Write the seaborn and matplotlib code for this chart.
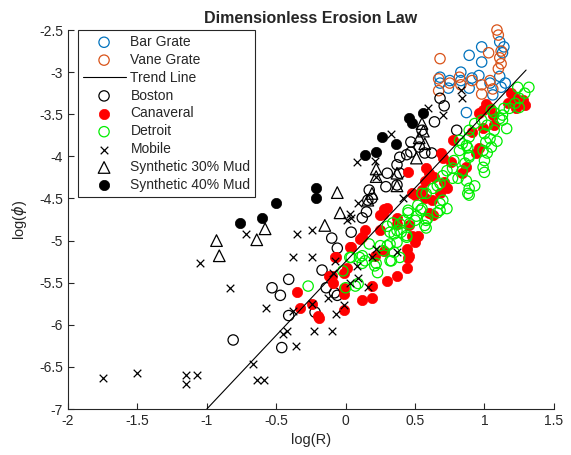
import matplotlib
matplotlib.use("Agg")
import matplotlib.pyplot as plt
import seaborn as sns

# -----------------------------
# Data, log(R) vs log(phi)
# -----------------------------
bar_x = [0.89, 0.98, 0.98, 1.11, 1.14, 1.13, 0.68, 0.68, 0.75, 0.74, 0.83, 0.83,
         0.91, 0.96, 0.89, 1.04, 1.06, 1.11, 1.12, 1.15, 0.87]
bar_y = [-2.80, -2.70, -2.88, -2.64, -2.70, -2.77, -3.06, -3.13, -3.10, -3.19, -3.00, -3.10,
         -3.07, -3.04, -3.19, -3.13, -3.27, -3.05, -3.18, -3.13, -3.48]

vane_x = [1.09, 1.10, 1.03, 1.12, 1.11, 1.12, 1.10, 0.68, 0.67, 0.67, 0.75, 0.82,
          0.83, 0.91, 0.98, 1.04, 0.98, 1.06]
vane_y = [-2.50, -2.56, -2.77, -2.75, -2.83, -2.90, -2.96, -2.84, -3.08, -3.22, -3.13, -3.06,
          -3.15, -3.10, -3.15, -3.10, -3.26, -3.20]

trend_x = [-1.0, 1.3]
trend_y = [-7.0, -2.975]

boston_x = [0.68, 0.71, 0.64, 0.80, 0.55, 0.47, 0.47, 0.53, 0.39, 0.44, 0.57, 0.62,
            0.30, 0.37, 0.39, 0.29, 0.37, 0.17, 0.19, 0.16, 0.15, 0.12, 0.04, -0.10,
            -0.06, -0.17, -0.08, -0.22, -0.41, -0.53, -0.47, -0.41, -0.81, -0.46, -0.14, -0.06]
boston_y = [-3.31, -3.40, -3.59, -3.69, -3.69, -3.83, -3.95, -3.89, -4.01, -3.98, -3.96, -3.96,
            -4.20, -4.10, -4.20, -4.36, -4.34, -4.40, -4.50, -4.52, -4.66, -4.73, -4.90, -4.97,
            -5.09, -5.35, -5.62, -5.85, -5.46, -5.56, -5.65, -5.89, -6.18, -6.27, -5.56, -5.65]

canaveral_x = [1.19, 1.22, 1.28, 1.29, 1.23, 1.17, 1.01, 1.04, 0.99, 0.96, 1.06, 0.99,
               1.07, 0.91, 0.77, 0.96, 0.94, 0.87, 0.69, 0.70, 0.76, 0.58, 0.60, 0.45,
               0.84, 0.57, 0.64, 0.71, 0.73, 0.68, 0.57, 0.62, 0.60, 0.63, 0.55, 0.50,
               0.48, 0.30, 0.27, 0.25, 0.14, 0.12, 0.37, 0.37, 0.46, 0.52, 0.50, 0.44,
               0.46, 0.44, 0.37, 0.30, 0.28, 0.21, 0.03, -0.08, 0.01, -0.10, -0.01, 0.19,
               0.19, 0.12, -0.19, -0.33, -0.35, -0.20, -0.01, -0.01, 0.28, 0.25, 0.10, 0.04,
               -0.01, -0.24, -0.12, -0.09, -0.07, 0.45, 0.48]
canaveral_y = [-3.25, -3.31, -3.33, -3.39, -3.42, -3.37, -3.38, -3.42, -3.45, -3.49, -3.51, -3.66,
               -3.63, -3.71, -3.81, -3.90, -3.96, -4.13, -3.96, -4.02, -4.07, -4.14, -4.20, -4.19,
               -4.20, -4.29, -4.25, -4.31, -4.37, -4.44, -4.50, -4.52, -4.67, -4.70, -4.40, -4.46,
               -4.44, -4.61, -4.68, -4.88, -4.88, -4.96, -4.73, -4.80, -4.82, -4.94, -5.02, -5.10,
               -5.18, -5.33, -5.42, -5.48, -5.12, -5.18, -5.08, -5.20, -5.32, -5.42, -5.56, -5.54,
               -5.68, -5.71, -5.92, -5.80, -5.61, -5.89, -5.82, -5.64, -4.62, -4.70, -4.98, -5.08,
               -5.38, -5.75, -5.42, -5.50, -5.20, -5.21, -4.94]

detroit_x = [1.32, 1.24, 1.29, 1.25, 1.22, 1.18, 1.13, 1.07, 1.11, 1.25, 1.14, 1.05,
             0.98, 1.02, 0.93, 0.89, 1.00, 1.07, 1.16, 0.89, 0.87, 0.82, 0.82, 1.01,
             0.99, 1.00, 0.99, 0.89, 0.86, 0.84, 0.70, 0.73, 1.13, 1.09, 1.04, 1.05,
             1.02, 1.00, 0.88, 0.84, 0.89, 0.78, 0.77, 0.81, 0.87, 0.89, 0.89, 0.77,
             0.66, 0.63, 0.58, 0.70, 0.73, 0.68, 0.55, 0.58, 0.57, 0.93, 0.88, 0.68,
             0.55, 0.68, 0.66, 0.54, 0.58, 0.52, 0.45, 0.50, 0.46, 0.39, 0.37, 0.44,
             0.37, 0.32, 0.30, 0.32, 0.17, 0.22, 0.23, 0.14, 0.12, 0.07, 0.09, -0.02,
             0.03, -0.27, 0.45, 0.59, 0.51, 0.42, 0.34, 0.30, 0.40, 0.35, 0.44, 0.32,
             0.35, 0.39, 0.33, 0.25, 0.27, 0.21, 0.10, 0.12, 0.04, 0.00]
detroit_y = [-3.18, -3.18, -3.25, -3.31, -3.37, -3.43, -3.51, -3.48, -3.55, -3.42, -3.43, -3.45,
             -3.57, -3.63, -3.61, -3.69, -3.73, -3.69, -3.67, -3.77, -3.87, -3.81, -3.93, -3.83,
             -3.93, -4.05, -4.13, -3.99, -4.08, -4.17, -4.23, -4.17, -3.57, -3.82, -3.79, -3.89,
             -3.96, -4.19, -3.90, -3.85, -4.01, -4.05, -4.14, -4.26, -4.29, -4.38, -4.46, -4.26,
             -4.35, -4.38, -4.44, -4.52, -4.62, -4.64, -4.62, -4.76, -4.82, -4.35, -4.44, -4.32,
             -4.44, -4.56, -4.67, -4.64, -4.85, -4.58, -4.67, -4.76, -4.80, -4.80, -4.88, -4.94,
             -5.02, -4.90, -5.06, -5.24, -5.04, -5.27, -5.38, -5.24, -5.18, -5.54, -5.51, -5.36,
             -5.20, -5.54, -4.64, -4.74, -4.71, -4.76, -4.79, -4.83, -4.90, -4.92, -4.96, -5.04,
             -5.14, -5.20, -5.24, -5.06, -5.12, -5.30, -5.20, -5.27, -5.20, -5.56]

mobile_x = [0.59, 0.33, 0.08, 0.21, 0.22, 0.09, 0.41, 0.03, 0.01, -0.24, -0.24, 0.08,
            0.09, 0.16, -0.08, -0.13, -0.01, -0.07, -0.23, -0.10, 0.22, 0.19, 0.37, -0.24,
            -0.35, -0.38, 0.04, -0.09, 0.03, -0.38, 0.83, 0.84, -1.05, -0.72, -0.83, -0.57,
            -0.45, -0.42, -0.36, -0.67, -0.64, -0.59, -1.15, -1.15, -1.07, -1.50, -1.75, 0.70]
mobile_y = [-3.42, -3.73, -4.07, -4.05, -4.25, -4.55, -4.49, -4.68, -4.76, -4.88, -5.20, -5.30,
            -5.44, -5.55, -5.24, -5.68, -5.77, -5.87, -6.07, -6.07, -5.10, -5.20, -5.14, -5.75,
            -4.92, -5.20, -4.73, -5.38, -5.50, -5.83, -3.21, -3.31, -5.27, -4.92, -5.56, -5.80,
            -6.11, -6.07, -6.25, -6.46, -6.65, -6.65, -6.60, -6.70, -6.59, -6.57, -6.63, -3.51]

mud30_x = [-0.93, -0.91, -0.64, -0.58, -0.06, -0.04, -0.15, 0.22, 0.22, 0.55, 0.56, 0.57,
           0.51, 0.37, 0.37, 0.19, 0.16, 0.53]
mud30_y = [-5.00, -5.18, -4.99, -4.86, -4.43, -4.67, -4.82, -4.15, -4.24, -3.61, -3.70, -3.85,
           -4.02, -4.20, -4.35, -4.44, -4.52, -3.78]

mud40_x = [-0.76, -0.60, -0.50, -0.21, -0.21, 0.14, 0.22, 0.26, 0.36, 0.46, 0.48, 0.56]
mud40_y = [-4.79, -4.73, -4.55, -4.37, -4.49, -3.98, -3.95, -3.77, -3.85, -3.54, -3.60, -3.49]

# -----------------------------
# Plot
# -----------------------------
sns.set_style("white")
plt.rcParams['font.family'] = ['Liberation Sans', 'DejaVu Sans']

fig = plt.figure(figsize=(5.71, 4.55), dpi=100)
ax = fig.add_axes([0.119, 0.101, 0.851, 0.833])

open_kw = dict(marker='o', s=55, facecolors='none', linewidths=0.9, clip_on=False)

sns.scatterplot(x=bar_x, y=bar_y, ax=ax, edgecolor='#0072BD', label='Bar Grate', **open_kw)
sns.scatterplot(x=vane_x, y=vane_y, ax=ax, edgecolor='#D95319', label='Vane Grate', **open_kw)
sns.lineplot(x=trend_x, y=trend_y, ax=ax, color='black', linewidth=0.8, label='Trend Line')
sns.scatterplot(x=boston_x, y=boston_y, ax=ax, edgecolor='black', label='Boston', **open_kw)
sns.scatterplot(x=canaveral_x, y=canaveral_y, ax=ax, marker='o', s=55, color='#FF0000',
                edgecolor='#FF0000', linewidth=0.5, label='Canaveral')
sns.scatterplot(x=detroit_x, y=detroit_y, ax=ax, edgecolor='#00EE00', label='Detroit', **open_kw)
sns.scatterplot(x=mobile_x, y=mobile_y, ax=ax, marker='x', s=30, color='black',
                linewidth=0.9, label='Mobile')
sns.scatterplot(x=mud30_x, y=mud30_y, ax=ax, marker='^', s=70, facecolors='none',
                edgecolor='black', linewidths=0.9, label='Synthetic 30% Mud')
sns.scatterplot(x=mud40_x, y=mud40_y, ax=ax, marker='o', s=55, color='black',
                edgecolor='black', linewidth=0.5, label='Synthetic 40% Mud')

ax.set_xlim(-2, 1.5)
ax.set_ylim(-7, -2.5)
ax.set_xticks([-2, -1.5, -1, -0.5, 0, 0.5, 1, 1.5])
ax.set_xticklabels(['-2', '-1.5', '-1', '-0.5', '0', '0.5', '1', '1.5'])
ax.set_yticks([-7, -6.5, -6, -5.5, -5, -4.5, -4, -3.5, -3, -2.5])
ax.set_yticklabels(['-7', '-6.5', '-6', '-5.5', '-5', '-4.5', '-4', '-3.5', '-3', '-2.5'])

for side in ['top', 'right']:
    ax.spines[side].set_visible(False)
for side in ['left', 'bottom']:
    ax.spines[side].set_color('#262626')
    ax.spines[side].set_linewidth(0.8)
ax.tick_params(direction='in', length=4, width=0.8, colors='#262626', labelsize=10,
               labelcolor='#262626', left=True, bottom=True)

ax.set_xlabel('log(R)', fontsize=10.5, color='#262626')
ax.set_ylabel('log($\\phi$)', fontsize=10.5, color='#262626', labelpad=7)
ax.set_title('Dimensionless Erosion Law', fontsize=11.5, fontweight='bold', pad=5)

leg = ax.legend(loc='upper left', bbox_to_anchor=(0.02, 1.0), borderaxespad=0, fontsize=10,
                frameon=True, fancybox=False, framealpha=1, edgecolor='#262626',
                labelspacing=0.28, handlelength=3.1, borderpad=0.35, handletextpad=0.35)
leg.get_frame().set_linewidth(0.8)

fig.savefig('out.png', dpi=100)
